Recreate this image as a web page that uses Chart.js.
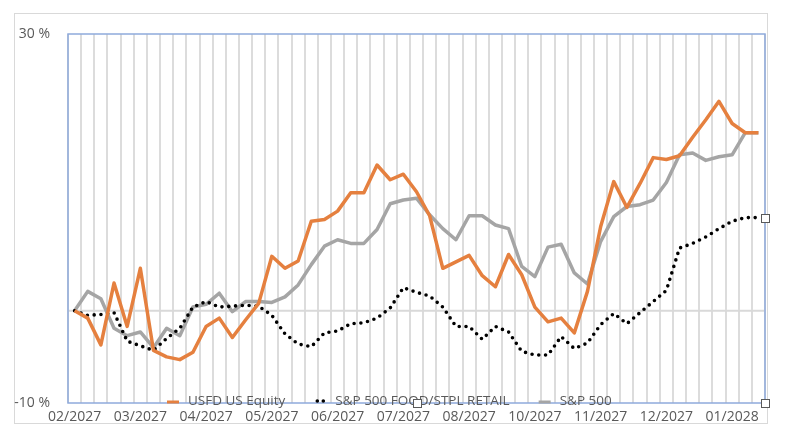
<!DOCTYPE html>
<html>
<head>
<meta charset="utf-8">
<script src="https://cdn.jsdelivr.net/npm/chart.js@4.4.1/dist/chart.umd.min.js"></script>
<style>
  html, body { margin: 0; padding: 0; background: #fff; }
  #wrap { width: 800px; height: 441px; }
</style>
</head>
<body>
<div id="wrap"><canvas id="perf-chart" width="800" height="441"></canvas></div>
<script>
// weekly observations, Feb 2027 - Jan 2028 (shown as MM/YYYY)
const weeks = [
  "02/2027", "02/2027", "02/2027", "02/2027", "03/2027", "03/2027", "03/2027", "03/2027", "03/2027",
  "04/2027", "04/2027", "04/2027", "04/2027", "05/2027", "05/2027", "05/2027", "05/2027", "05/2027",
  "06/2027", "06/2027", "06/2027", "06/2027", "07/2027", "07/2027", "07/2027", "07/2027",
  "08/2027", "08/2027", "08/2027", "08/2027", "08/2027", "09/2027", "09/2027", "09/2027", "09/2027",
  "10/2027", "10/2027", "10/2027", "10/2027", "11/2027", "11/2027", "11/2027", "11/2027", "11/2027",
  "12/2027", "12/2027", "12/2027", "12/2027", "01/2028", "01/2028", "01/2028", "01/2028", "01/2028"
];

// cumulative return in %
const usfd = [
  0, -0.8, -3.7, 3.0, -1.7, 4.6, -4.3, -5.0, -5.3, -4.5, -1.7, -0.8, -2.9, -1.0,
  0.8, 5.9, 4.6, 5.4, 9.7, 9.9, 10.8, 12.8, 12.8, 15.8, 14.2, 14.8, 12.9, 10.3,
  4.6, 5.3, 6.0, 3.8, 2.6, 6.1, 3.9, 0.4, -1.2, -0.8, -2.4, 2.1, 9.1, 14.0,
  11.2, 13.8, 16.6, 16.4, 16.8, 18.8, 20.7, 22.7, 20.3, 19.3, 19.3
];
const foodRetail = [
  0, -0.5, -0.4, -0.2, -3.3, -3.8, -4.3, -3.0, -1.9, 0.4, 1.0, 0.4, 0.5, 0.6,
  0.5, -0.5, -2.5, -3.6, -3.9, -2.4, -2.2, -1.4, -1.3, -0.8, 0.3, 2.5, 2.0, 1.6,
  0.4, -1.7, -1.7, -3.1, -1.7, -2.3, -4.4, -4.8, -4.8, -2.8, -4.1, -3.5, -1.5, -0.3,
  -1.4, -0.2, 1.0, 2.2, 6.8, 7.3, 8.0, 8.9, 9.7, 10.1, 10.1
];
const sp500 = [
  0, 2.1, 1.3, -1.9, -2.7, -2.3, -4.0, -1.9, -2.7, 0.4, 0.7, 1.9, -0.1, 1.0,
  1.0, 0.9, 1.5, 2.8, 5.0, 7.0, 7.7, 7.3, 7.3, 8.8, 11.6, 12.0, 12.2, 10.4,
  8.9, 7.7, 10.3, 10.3, 9.3, 8.9, 4.8, 3.7, 6.9, 7.2, 4.1, 2.9, 7.5, 10.2,
  11.3, 11.5, 12.0, 13.9, 16.9, 17.1, 16.3, 16.7, 16.9, 19.3, 19.3
];
const seriesNames = ["USFD US Equity", "S&P 500 FOOD/STPL RETAIL", "S&P 500"];
const yTicks = [-10, 30];

const textColor = "#595959";
const fontFamily = "'Open Sans', Lato, sans-serif";

// extra drawing: outer frame, zero line, plot border, legend, selection handles
const excelLook = {
  id: "excelLook",
  beforeDraw(chart) {
    const ctx = chart.ctx;
    ctx.save();
    ctx.strokeStyle = "#d9d9d9";
    ctx.lineWidth = 1;
    ctx.strokeRect(14.5, 13.5, 753, 410);
    ctx.restore();
  },
  beforeDatasetsDraw(chart) {
    const ctx = chart.ctx;
    const a = chart.chartArea;
    const y0 = chart.scales.y.getPixelForValue(0);
    ctx.save();
    ctx.strokeStyle = "#d9d9d9";
    ctx.lineWidth = 2;
    ctx.beginPath();
    ctx.moveTo(a.left, y0);
    ctx.lineTo(a.right, y0);
    ctx.stroke();
    ctx.strokeStyle = "#8faadc";
    ctx.lineWidth = 1.5;
    ctx.strokeRect(a.left, a.top, a.right - a.left, a.bottom - a.top);
    ctx.restore();
  },
  afterDraw(chart) {
    const ctx = chart.ctx;
    const a = chart.chartArea;
    ctx.save();
    // legend
    ctx.font = "13.5px " + fontFamily;
    ctx.textBaseline = "middle";
    const ly = 401;
    let x = 167;
    chart.data.datasets.forEach((ds, i) => {
      if (i === 1) {
        ctx.fillStyle = ds.borderColor;
        [3, 9].forEach((dx) => {
          ctx.beginPath();
          ctx.arc(x + dx, ly, 1.8, 0, Math.PI * 2);
          ctx.fill();
        });
      } else {
        ctx.strokeStyle = ds.borderColor;
        ctx.lineWidth = 3;
        ctx.beginPath();
        ctx.moveTo(x, ly + 1);
        ctx.lineTo(x + 12, ly + 1);
        ctx.stroke();
      }
      ctx.fillStyle = textColor;
      ctx.fillText(ds.label, x + 21, ly);
      x += 21 + ctx.measureText(ds.label).width + 29;
    });
    // selection handles
    const yEnd = chart.scales.y.getPixelForValue(foodRetail[foodRetail.length - 1]);
    const handles = [[a.right, yEnd], [a.right, a.bottom], [(a.left + a.right) / 2, a.bottom]];
    ctx.fillStyle = "#fff";
    ctx.strokeStyle = "#595959";
    ctx.lineWidth = 1;
    handles.forEach(([hx, hy]) => {
      ctx.fillRect(Math.round(hx) - 4, Math.round(hy) - 4, 9, 9);
      ctx.strokeRect(Math.round(hx) - 4 + 0.5, Math.round(hy) - 4 + 0.5, 8, 8);
    });
    ctx.restore();
  }
};

new Chart(document.getElementById("perf-chart"), {
  type: "line",
  data: {
    labels: weeks,
    datasets: [
      {
        label: seriesNames[0],
        data: usfd,
        borderColor: "#e5803f",
        borderWidth: 3.5,
        pointRadius: 0,
        tension: 0,
        borderJoinStyle: "round"
      },
      {
        label: seriesNames[1],
        data: foodRetail,
        borderColor: "#000000",
        borderWidth: 3.6,
        borderDash: [0, 6.8],
        borderCapStyle: "round",
        pointRadius: 0,
        tension: 0
      },
      {
        label: seriesNames[2],
        data: sp500,
        borderColor: "#a5a5a5",
        borderWidth: 3.5,
        pointRadius: 0,
        tension: 0,
        borderJoinStyle: "round"
      }
    ]
  },
  options: {
    responsive: false,
    animation: false,
    layout: { padding: { left: 0, right: 35, top: 34, bottom: 0 } },
    plugins: {
      legend: { display: false },
      tooltip: { enabled: false }
    },
    scales: {
      x: {
        offset: true,
        grid: { offset: true, color: "#dcdcdc", lineWidth: 2, drawTicks: false },
        border: { display: false },
        ticks: {
          autoSkip: false,
          maxRotation: 0,
          padding: 6,
          color: textColor,
          font: { family: fontFamily, size: 14 },
          callback: (val, idx) => (idx % 5 === 0 ? weeks[idx] : "")
        },
        afterFit: (scale) => { scale.height = 38; }
      },
      y: {
        min: yTicks[0],
        max: yTicks[1],
        afterBuildTicks: (scale) => { scale.ticks = yTicks.map((v) => ({ value: v })); },
        grid: { display: false, drawTicks: false },
        border: { display: false },
        ticks: {
          padding: 18,
          color: textColor,
          font: { family: fontFamily, size: 14 },
          callback: (v) => v + " %"
        },
        afterFit: (scale) => { scale.width = 68; }
      }
    }
  },
  plugins: [excelLook]
});
</script>
</body>
</html>
